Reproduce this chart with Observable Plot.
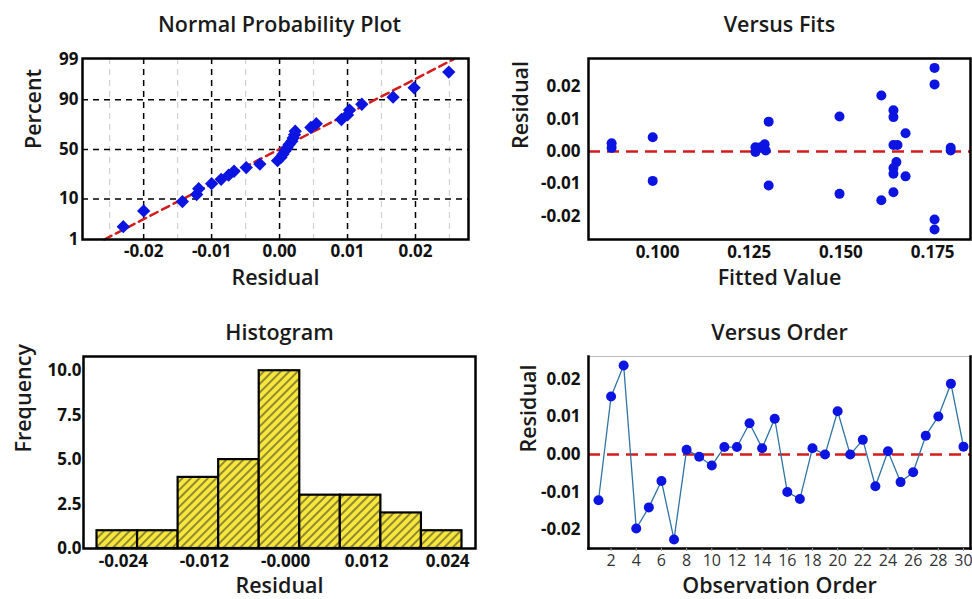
<!DOCTYPE html>
<html>
<head>
<meta charset="utf-8">
<script src="https://cdn.jsdelivr.net/npm/d3@7"></script>
<script src="https://cdn.jsdelivr.net/npm/@observablehq/plot@0.6"></script>
<style>
  html, body { margin: 0; padding: 0; background: #fff; }
  #wrap { position: relative; width: 972px; height: 599px; overflow: hidden; background: #fff; }
  #wrap svg { position: absolute; overflow: visible; }
</style>
</head>
<body>
<div id="wrap"></div>
<script>
// ---------- DATA ----------
// Normal probability plot (sorted residuals and plotted percents)
const nppResidual = [-0.0230, -0.0200, -0.0143, -0.0122, -0.0119, -0.0100, -0.0086, -0.0075, -0.0067, -0.0049,
                     -0.0029, -0.0003, 0.0002, 0.0005, 0.0008, 0.0011, 0.0014, 0.0018, 0.0020, 0.0022,
                     0.0023, 0.0046, 0.0054, 0.0091, 0.0100, 0.0103, 0.0121, 0.0167, 0.0198, 0.0249];
const nppPercent = [2.3, 5.6, 8.9, 12.2, 15.5, 18.8, 22.0, 25.3, 28.6, 31.9,
                    35.2, 38.5, 41.8, 45.1, 48.4, 51.6, 54.9, 58.2, 61.5, 64.8,
                    68.1, 71.4, 74.7, 78.0, 81.3, 84.5, 87.8, 91.1, 94.4, 97.7];
const nppFitResidual = [-0.0258, 0.0256];
const nppFitPercent = [1, 99];
const nppXTicks = [-0.02, -0.01, 0, 0.01, 0.02];
const nppMinorX = [-0.025, -0.015, -0.005, 0.005, 0.015, 0.025];
const nppPctTicks = [1, 10, 50, 90, 99];
const nppPctGrid = [10, 50, 90];

// Versus fits
const fitsFitted = [0.0875, 0.0875, 0.0987, 0.0987,
                    0.1267, 0.1267, 0.1281, 0.1292, 0.1295, 0.1303, 0.1303,
                    0.1496, 0.1496, 0.1610, 0.1610,
                    0.1643, 0.1643, 0.1643, 0.1654, 0.1651, 0.1643, 0.1643, 0.1643,
                    0.1676, 0.1676, 0.1755, 0.1755, 0.1755, 0.1755, 0.1799, 0.1799];
const fitsResidual = [0.0025, 0.0011, 0.0044, -0.0091,
                      0.0013, -0.0002, 0.0013, 0.0022, 0.0003, 0.0092, -0.0105,
                      0.0108, -0.0131, 0.0173, -0.0151,
                      0.0127, 0.0106, 0.0020, 0.0020, -0.0033, -0.0051, -0.0069, -0.0126,
                      0.0056, -0.0077, 0.0258, 0.0207, -0.0210, -0.0241, 0.0011, 0.0003];
const fitsXTicks = [0.100, 0.125, 0.150, 0.175];
const residYTicks = [-0.02, -0.01, 0, 0.01, 0.02];
const zeroLine = [0];

// Histogram
const histMid = [-0.024, -0.018, -0.012, -0.006, 0, 0.006, 0.012, 0.018, 0.024];
const histCount = [1, 1, 4, 5, 10, 3, 3, 2, 1];
const histBinWidth = 0.006;
const histXTicks = [-0.024, -0.012, 0, 0.012, 0.024];
const histXTickLabels = ["-0.024", "-0.012", "-0.000", "0.012", "0.024"];
const histYTicks = [0, 2.5, 5, 7.5, 10];

// Versus order
const orderObs = [1, 2, 3, 4, 5, 6, 7, 8, 9, 10, 11, 12, 13, 14, 15, 16, 17, 18, 19, 20,
                  21, 22, 23, 24, 25, 26, 27, 28, 29, 30];
const orderResidual = [-0.0121, 0.0154, 0.0236, -0.0196, -0.0140, -0.0070, -0.0225, 0.0013, -0.0006, -0.0029,
                       0.0020, 0.0020, 0.0083, 0.0017, 0.0095, -0.0099, -0.0118, 0.0017, 0.0000, 0.0115,
                       0.0000, 0.0039, -0.0084, 0.0009, -0.0073, -0.0047, 0.0050, 0.0101, 0.0188, 0.0021];
const orderXTicks = [2, 4, 6, 8, 10, 12, 14, 16, 18, 20, 22, 24, 26, 28, 30];

// ---------- HELPERS ----------
function probit(p) {
  const a = [-3.969683028665376e+01, 2.209460984245205e+02, -2.759285104469687e+02, 1.383577518672690e+02, -3.066479806614716e+01, 2.506628277459239e+00];
  const b = [-5.447609879822406e+01, 1.615858368580409e+02, -1.556989798598866e+02, 6.680131188771972e+01, -1.328068155288572e+01];
  const c = [-7.784894002430293e-03, -3.223964580411365e-01, -2.400758277161838e+00, -2.549732539343734e+00, 4.374664141464968e+00, 2.938163982698783e+00];
  const d = [7.784695709041462e-03, 3.224671290700398e-01, 2.445134137142996e+00, 3.754408661907416e+00];
  const pl = 0.02425, ph = 1 - pl;
  let q, r;
  if (p < pl) {
    q = Math.sqrt(-2 * Math.log(p));
    return (((((c[0]*q+c[1])*q+c[2])*q+c[3])*q+c[4])*q+c[5]) / ((((d[0]*q+d[1])*q+d[2])*q+d[3])*q+1);
  }
  if (p <= ph) {
    q = p - 0.5; r = q * q;
    return (((((a[0]*r+a[1])*r+a[2])*r+a[3])*r+a[4])*r+a[5])*q / (((((b[0]*r+b[1])*r+b[2])*r+b[3])*r+b[4])*r+1);
  }
  q = Math.sqrt(-2 * Math.log(1 - p));
  return -(((((c[0]*q+c[1])*q+c[2])*q+c[3])*q+c[4])*q+c[5]) / ((((d[0]*q+d[1])*q+d[2])*q+d[3])*q+1);
}

const FONT = '"Open Sans", "Segoe UI", sans-serif';
const BLUE = "#0b14e0";
const RED = "#d31c1c";
const wrap = document.getElementById("wrap");
function place(svg, left, top) {
  svg.style.left = left + "px";
  svg.style.top = top + "px";
  wrap.appendChild(svg);
}
const tickText = {fontSize: 17, fontWeight: "bold", fill: "#111"};
const titleText = {fontSize: 21.5, fontWeight: 600, fill: "#1a1a1a", text: d => d, lineAnchor: "middle"};
const axisTitle = {fontSize: 21.5, fontWeight: 600, fill: "#1a1a1a", text: d => d, lineAnchor: "middle"};
const fmt2 = d => d.toFixed(2);

// ---------- PANEL 1: Normal probability plot ----------
const nppData = nppResidual.map((r, i) => ({r, z: probit(nppPercent[i] / 100)}));
const nppFit = nppFitResidual.map((r, i) => ({r, z: probit(nppFitPercent[i] / 100)}));
const nppTickZ = nppPctTicks.map(p => probit(p / 100));
const nppGridZ = nppPctGrid.map(p => probit(p / 100));

const p1 = Plot.plot({
  width: 486, height: 300,
  marginLeft: 82, marginTop: 58, marginRight: 18, marginBottom: 61,
  style: {fontFamily: FONT, background: "transparent"},
  x: {domain: [-0.029, 0.0278]},
  y: {domain: [probit(0.01), probit(0.99) + 0.02]},
  marks: [
    Plot.ruleX(nppMinorX, {stroke: "#d0d0d0", strokeWidth: 1.2, strokeDasharray: "6,5"}),
    Plot.gridX(nppXTicks, {stroke: "#000", strokeOpacity: 1, strokeWidth: 1.5, strokeDasharray: "6,5"}),
    Plot.gridY(nppGridZ, {stroke: "#000", strokeOpacity: 1, strokeWidth: 1.5, strokeDasharray: "6,5"}),
    Plot.line(nppFit, {x: "r", y: "z", stroke: RED, strokeWidth: 2.5, strokeDasharray: "8,5"}),
    Plot.dot(nppData, {x: "r", y: "z", symbol: "diamond2", r: 6, fill: BLUE}),
    Plot.frame({stroke: "#000", strokeWidth: 2.5}),
    Plot.axisX(nppXTicks, {tickSize: 0, tickPadding: 5, tickFormat: fmt2, label: null, ...tickText}),
    Plot.axisY(nppTickZ, {tickSize: 0, tickPadding: 4, label: null,
      tickFormat: z => String(nppPctTicks[nppTickZ.indexOf(z)]), ...tickText}),
    Plot.text(["Normal Probability Plot"], {frameAnchor: "top", dy: -33, dx: 4, ...titleText}),
    Plot.text(["Residual"], {frameAnchor: "bottom", dy: 39, ...axisTitle}),
    Plot.text(["Percent"], {frameAnchor: "left", dx: -48, rotate: -90, ...axisTitle})
  ]
});
place(p1, 0, 0);

// ---------- PANEL 2: Versus fits ----------
const fitsData = fitsFitted.map((f, i) => ({f, r: fitsResidual[i]}));
const p2 = Plot.plot({
  width: 486, height: 300,
  marginLeft: 102, marginTop: 58, marginRight: 2, marginBottom: 61,
  style: {fontFamily: FONT, background: "transparent"},
  x: {domain: [0.0812, 0.1853]},
  y: {domain: [-0.0272, 0.0287]},
  marks: [
    Plot.ruleY(zeroLine, {stroke: RED, strokeWidth: 2.5, strokeDasharray: "12,7"}),
    Plot.dot(fitsData, {x: "f", y: "r", r: 5, fill: BLUE}),
    Plot.frame({stroke: "#000", strokeWidth: 2.5}),
    Plot.axisX(fitsXTicks, {tickSize: 0, tickPadding: 6, tickFormat: d => d.toFixed(3), label: null, ...tickText}),
    Plot.axisY(residYTicks, {tickSize: 0, tickPadding: 8, tickFormat: fmt2, label: null, ...tickText}),
    Plot.text(["Versus Fits"], {frameAnchor: "top", dy: -33, ...titleText}),
    Plot.text(["Fitted Value"], {frameAnchor: "bottom", dy: 39, ...axisTitle}),
    Plot.text(["Residual"], {frameAnchor: "left", dx: -67, rotate: -90, ...axisTitle})
  ]
});
place(p2, 486, 0);

// ---------- PANEL 3: Histogram ----------
const histData = histMid.map((m, i) => ({x1: m - histBinWidth / 2, x2: m + histBinWidth / 2, count: histCount[i]}));
const p3 = Plot.plot({
  width: 486, height: 299,
  marginLeft: 83, marginTop: 56, marginRight: 11, marginBottom: 51,
  style: {fontFamily: FONT, background: "transparent"},
  x: {domain: [-0.029, 0.029]},
  y: {domain: [0, 10.8]},
  marks: [
    Plot.rectY(histData, {x1: "x1", x2: "x2", y: "count", fill: "url(#hatch)", stroke: "#000", strokeWidth: 2.2}),
    Plot.frame({stroke: "#000", strokeWidth: 2.5}),
    Plot.axisX(histXTicks, {tickSize: 0, tickPadding: 6, dx: 6, label: null,
      tickFormat: d => histXTickLabels[histXTicks.indexOf(d)], ...tickText}),
    Plot.axisY(histYTicks, {tickSize: 0, tickPadding: 2, tickFormat: d => d.toFixed(1), label: null, ...tickText}),
    Plot.text(["Histogram"], {frameAnchor: "top", dy: -23, ...titleText}),
    Plot.text(["Residual"], {frameAnchor: "bottom", dy: 38, ...axisTitle}),
    Plot.text(["Frequency"], {frameAnchor: "left", dx: -59, rotate: -90, ...axisTitle})
  ]
});
(function addHatch(svg) {
  const NS = "http://www.w3.org/2000/svg";
  const defs = document.createElementNS(NS, "defs");
  const pat = document.createElementNS(NS, "pattern");
  pat.setAttribute("id", "hatch");
  pat.setAttribute("patternUnits", "userSpaceOnUse");
  pat.setAttribute("width", "6");
  pat.setAttribute("height", "6");
  pat.setAttribute("patternTransform", "rotate(45)");
  const bg = document.createElementNS(NS, "rect");
  bg.setAttribute("width", "6");
  bg.setAttribute("height", "6");
  bg.setAttribute("fill", "#f7e63c");
  const ln = document.createElementNS(NS, "line");
  ln.setAttribute("x1", "3"); ln.setAttribute("y1", "0");
  ln.setAttribute("x2", "3"); ln.setAttribute("y2", "6");
  ln.setAttribute("stroke", "#2a2a2a");
  ln.setAttribute("stroke-width", "1");
  pat.appendChild(bg); pat.appendChild(ln);
  defs.appendChild(pat);
  svg.insertBefore(defs, svg.firstChild);
})(p3);
place(p3, 0, 300);

// ---------- PANEL 4: Versus order ----------
const orderData = orderObs.map((o, i) => ({o, r: orderResidual[i]}));
const p4 = Plot.plot({
  width: 486, height: 299,
  marginLeft: 102, marginTop: 56, marginRight: 2, marginBottom: 51,
  style: {fontFamily: FONT, background: "transparent"},
  x: {domain: [0.206, 30.556]},
  y: {domain: [-0.0249, 0.026]},
  marks: [
    Plot.frame({stroke: "#b8b8b8", strokeWidth: 1}),
    Plot.ruleY(zeroLine, {stroke: RED, strokeWidth: 2.5, strokeDasharray: "12,7"}),
    Plot.line(orderData, {x: "o", y: "r", stroke: "#2f74a3", strokeWidth: 1.3}),
    Plot.dot(orderData, {x: "o", y: "r", r: 5, fill: BLUE}),
    Plot.frame({anchor: "left", stroke: "#000", strokeWidth: 2.5}),
    Plot.frame({anchor: "bottom", stroke: "#000", strokeWidth: 2.5}),
    Plot.frame({anchor: "right", stroke: "#000", strokeWidth: 2.5}),
    Plot.axisX(orderXTicks, {tickSize: 3, tickPadding: 3, label: null, fontSize: 16, fill: "#333", stroke: "#999"}),
    Plot.axisY(residYTicks, {tickSize: 0, tickPadding: 8, tickFormat: fmt2, label: null, ...tickText}),
    Plot.text(["Versus Order"], {frameAnchor: "top", dy: -23, ...titleText}),
    Plot.text(["Observation Order"], {frameAnchor: "bottom", dy: 38, ...axisTitle}),
    Plot.text(["Residual"], {frameAnchor: "left", dx: -59, rotate: -90, ...axisTitle})
  ]
});
place(p4, 486, 300);
</script>
</body>
</html>
